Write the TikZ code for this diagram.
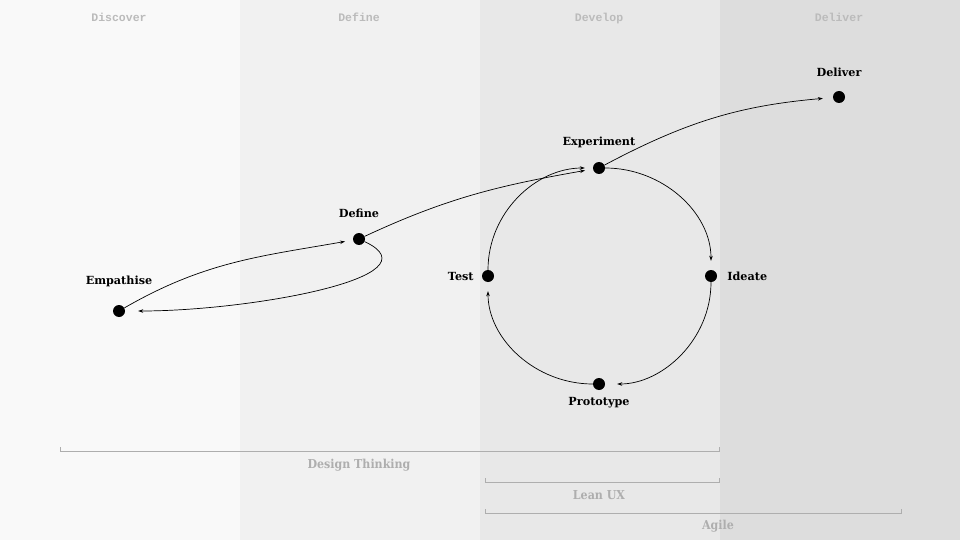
\documentclass[tikz,border=0pt]{standalone}
\usepackage{fontspec}
\setmainfont{DejaVu Serif}
\newfontfamily\phasefont{Liberation Mono}
\newfontfamily\condfont{DejaVu Serif Condensed}
\usetikzlibrary{calc}
\usetikzlibrary{arrows.meta}
\usetikzlibrary{positioning}
\definecolor{bandA}{HTML}{F9F9F9}
\definecolor{bandB}{HTML}{F1F1F1}
\definecolor{bandC}{HTML}{E8E8E8}
\definecolor{bandD}{HTML}{DDDDDD}
\definecolor{phasegray}{HTML}{BBBBBB}
\definecolor{brackgray}{HTML}{AEAEAE}
\pgfkeys{tikz/mydot/.style={circle,fill=black,inner sep=0pt,minimum size=12pt}}
\pgfkeys{tikz/mylabel/.style={font=\bfseries\fontsize{11.2}{13}\selectfont,inner sep=0pt}}
\pgfkeys{tikz/myphase/.style={font=\phasefont\bfseries\fontsize{11.5}{13}\selectfont,text=phasegray,text height=8pt,text depth=2.5pt}}
\pgfkeys{tikz/mybracket/.style={draw=brackgray,line width=0.8pt}}
\pgfkeys{tikz/mybrlabel/.style={font=\condfont\bfseries\fontsize{12.3}{14}\selectfont,text=brackgray}}
\pgfkeys{tikz/myflow/.style={>={Stealth[length=5pt,width=3.5pt]},->,line width=0.7pt,shorten >=9pt}}

\begin{document}
\begin{tikzpicture}[x=1pt,y=1pt]
    \fill[bandA] (0,0) rectangle (240,-540);
    \fill[bandB] (240,0) rectangle (480,-540);
    \fill[bandC] (480,0) rectangle (720,-540);
    \fill[bandD] (720,0) rectangle (960,-540);
    \useasboundingbox (0,0) rectangle (960,-540);

    \node[myphase] (phdisc) at (119,-19) {Discover};
    \node[myphase] (phdef) at (359,-19) {Define};
    \node[myphase] (phdev) at (599,-19) {Develop};
    \node[myphase] (phdel) at (839,-19) {Deliver};

    \node[mydot] (emp) at (119,-311) {};
    \node[mydot] (def) at (359,-239) {};
    \node[mydot] (exper) at (599,-168) {};
    \node[mydot] (deliv) at (839,-97) {};
    \node[mydot] (test) at (488,-276) {};
    \node[mydot] (ideate) at (711,-276) {};
    \node[mydot] (proto) at (599,-384) {};

    \node[mylabel, above=18pt of emp] (emplbl) {Empathise};
    \node[mylabel, above=15pt of def] (deflbl) {Define};
    \node[mylabel, above=14pt of exper] (experlbl) {Experiment};
    \node[mylabel, above=14pt of deliv] (delivlbl) {Deliver};
    \node[mylabel, left=8pt of test] (testlbl) {Test};
    \node[mylabel, right=10pt of ideate] (ideatelbl) {Ideate};
    \node[mylabel, below=7pt of proto] (protolbl) {Prototype};

    \draw[myflow,shorten >=8pt] (emp) to[out=30,in=190] (def);
    \draw[myflow,shorten >=13pt] (def) .. controls +(-25:90) and +(0:130) .. (emp);
    \draw[myflow,shorten >=8pt] (def) to[out=25,in=190] (exper);
    \draw[myflow,shorten >=10pt] (exper) to[out=28,in=185] (deliv);
    \draw[myflow] (exper) to[out=0,in=90] (ideate);
    \draw[myflow,shorten >=12pt] (ideate) to[out=-90,in=0] (proto);
    \draw[myflow] (proto) to[out=180,in=-90] (test);
    \draw[myflow,shorten >=8pt] (test) to[out=90,in=180] (exper);

    \coordinate (dtl) at (60,-451);
    \coordinate (dtr) at (719,-451);
    \draw[mybracket] ($(dtl)+(0,4)$) -- (dtl) -- (dtr) -- ($(dtr)+(0,4)$);
    \node[mybrlabel] (dtlbl) at (359,-465) {Design Thinking};
    \coordinate (lxl) at (485,-482);
    \coordinate (lxr) at (719,-482);
    \draw[mybracket] ($(lxl)+(0,4)$) -- (lxl) -- (lxr) -- ($(lxr)+(0,4)$);
    \node[mybrlabel] (lxlbl) at (599,-495) {Lean UX};
    \coordinate (agl) at (485,-513);
    \coordinate (agr) at (901,-513);
    \draw[mybracket] ($(agl)+(0,4)$) -- (agl) -- (agr) -- ($(agr)+(0,4)$);
    \node[mybrlabel] (aglbl) at (718,-526) {Agile};
\end{tikzpicture}
\end{document}
